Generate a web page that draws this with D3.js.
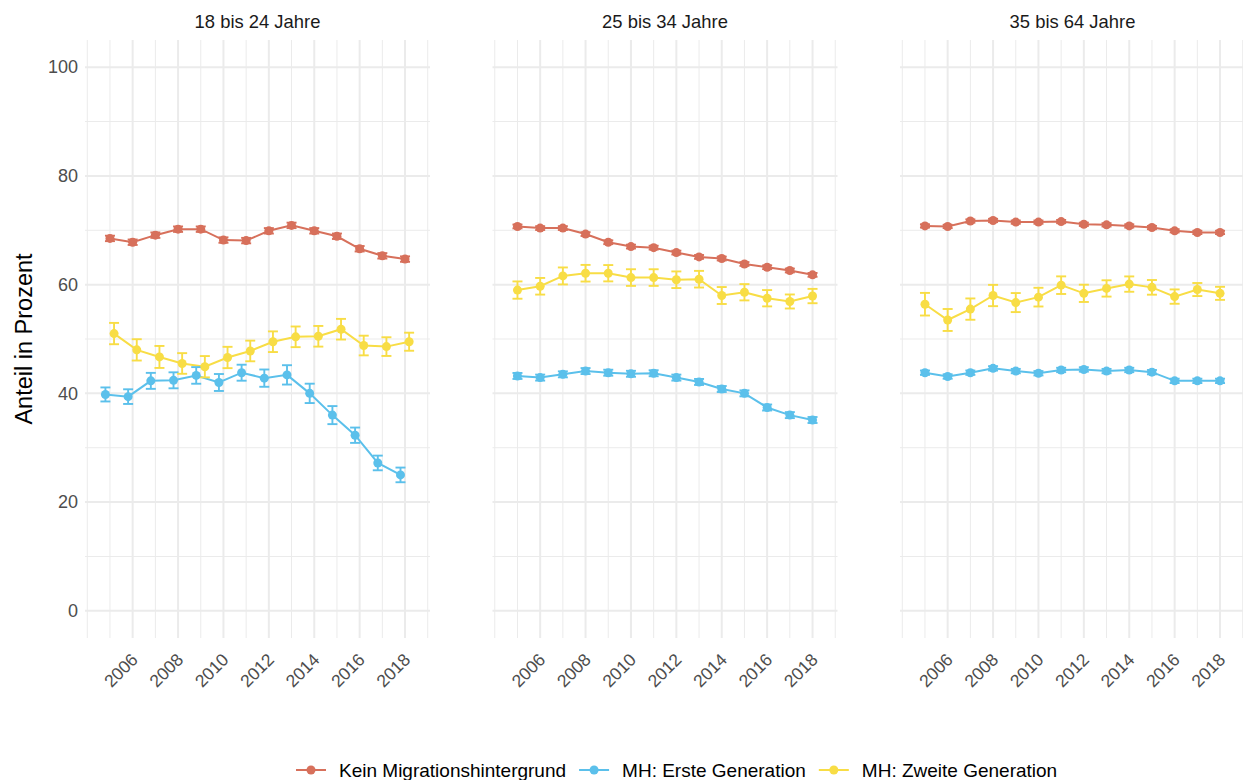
<!DOCTYPE html>
<html>
<head>
<meta charset="utf-8">
<script src="https://cdn.jsdelivr.net/npm/d3@7"></script>
<style>
  body { margin: 0; background: #ffffff; }
  svg { display: block; }
  text { font-family: "Liberation Sans", Arial, sans-serif; }
</style>
</head>
<body>
<svg id="chart" width="1243" height="780"></svg>
<script>
// ---- data -------------------------------------------------------------
const years = [2005, 2006, 2007, 2008, 2009, 2010, 2011, 2012, 2013, 2014, 2015, 2016, 2017, 2018];
const panelTitles = ["18 bis 24 Jahre", "25 bis 34 Jahre", "35 bis 64 Jahre"];
const seriesNames = ["Kein Migrationshintergrund", "MH: Erste Generation", "MH: Zweite Generation"];
const xBreaks = [2006, 2008, 2010, 2012, 2014, 2016, 2018];
const yBreaks = [0, 20, 40, 60, 80, 100];
const yLabel = "Anteil in Prozent";

// shares (percent) per age group
const kein_18_24   = [68.5, 67.8, 69.1, 70.2, 70.2, 68.2, 68.1, 69.9, 70.9, 69.9, 68.9, 66.6, 65.3, 64.7];
const erste_18_24  = [39.8, 39.4, 42.3, 42.4, 43.3, 42.0, 43.8, 42.8, 43.4, 40.0, 36.0, 32.3, 27.2, 25.0];
const zweite_18_24 = [51.0, 48.0, 46.7, 45.5, 44.9, 46.6, 47.8, 49.5, 50.4, 50.5, 51.8, 48.8, 48.6, 49.5];

const kein_25_34   = [70.7, 70.4, 70.4, 69.3, 67.8, 67.0, 66.8, 65.9, 65.1, 64.8, 63.8, 63.2, 62.6, 61.8];
const erste_25_34  = [43.2, 42.9, 43.5, 44.1, 43.8, 43.6, 43.7, 42.9, 42.1, 40.8, 40.0, 37.4, 36.0, 35.1];
const zweite_25_34 = [59.0, 59.7, 61.6, 62.1, 62.1, 61.3, 61.3, 60.9, 61.0, 58.0, 58.6, 57.5, 56.9, 57.9];

const kein_35_64   = [70.8, 70.7, 71.7, 71.8, 71.5, 71.5, 71.6, 71.1, 71.0, 70.8, 70.5, 69.9, 69.6, 69.6];
const erste_35_64  = [43.8, 43.1, 43.8, 44.6, 44.1, 43.7, 44.3, 44.4, 44.1, 44.3, 43.9, 42.3, 42.3, 42.3];
const zweite_35_64 = [56.4, 53.5, 55.5, 58.0, 56.7, 57.7, 59.9, 58.4, 59.3, 60.1, 59.5, 57.8, 59.1, 58.4];

// half-widths of the confidence intervals (percentage points)
const kein_ci_18_24   = [0.5, 0.5, 0.5, 0.5, 0.5, 0.5, 0.5, 0.5, 0.5, 0.5, 0.5, 0.5, 0.5, 0.5];
const erste_ci_18_24  = [1.29, 1.35, 1.47, 1.47, 1.53, 1.56, 1.47, 1.59, 1.78, 1.78, 1.66, 1.41, 1.35, 1.35];
const zweite_ci_18_24 = [1.96, 1.96, 2.02, 1.90, 1.96, 1.96, 1.90, 1.90, 1.90, 1.90, 1.90, 1.81, 1.72, 1.66];

const kein_ci_25_34   = [0.35, 0.35, 0.35, 0.35, 0.35, 0.35, 0.35, 0.35, 0.35, 0.35, 0.35, 0.35, 0.35, 0.35];
const erste_ci_25_34  = [0.55, 0.55, 0.55, 0.55, 0.55, 0.55, 0.55, 0.55, 0.55, 0.55, 0.55, 0.55, 0.55, 0.55];
const zweite_ci_25_34 = [1.59, 1.53, 1.56, 1.53, 1.50, 1.53, 1.53, 1.53, 1.53, 1.56, 1.50, 1.50, 1.29, 1.32];

const kein_ci_35_64   = [0.3, 0.3, 0.3, 0.3, 0.3, 0.3, 0.3, 0.3, 0.3, 0.3, 0.3, 0.3, 0.3, 0.3];
const erste_ci_35_64  = [0.4, 0.4, 0.4, 0.4, 0.4, 0.4, 0.4, 0.4, 0.4, 0.4, 0.4, 0.4, 0.4, 0.4];
const zweite_ci_35_64 = [2.08, 2.02, 1.96, 1.96, 1.75, 1.72, 1.62, 1.59, 1.50, 1.41, 1.35, 1.32, 1.20, 1.20];

// ---- styling ----------------------------------------------------------
const seriesColors = ["#D7705B", "#5BC0EB", "#F8DD45"];
const gridColor = "#ebebeb";

const panelsData = [
  { values: [kein_18_24, erste_18_24, zweite_18_24], ci: [kein_ci_18_24, erste_ci_18_24, zweite_ci_18_24], dodge: [0, -0.2, 0.18] },
  { values: [kein_25_34, erste_25_34, zweite_25_34], ci: [kein_ci_25_34, erste_ci_25_34, zweite_ci_25_34], dodge: [0, 0, 0] },
  { values: [kein_35_64, erste_35_64, zweite_35_64], ci: [kein_ci_35_64, erste_ci_35_64, zweite_ci_35_64], dodge: [0, 0, 0] }
];

// ---- layout -----------------------------------------------------------
const svg = d3.select("#chart");
const panelLeft = [85, 492.5, 900];
const panelW = 345, panelTop = 40, panelH = 598;

const x = d3.scaleLinear().domain([2003.9, 2019.1]).range([0, panelW]);
const y = d3.scaleLinear().domain([-5, 105]).range([panelH, 0]);

const gridYearsAll = d3.range(2004, 2020);
const yMinor = [10, 30, 50, 70, 90];

panelsData.forEach((pd, p) => {
  const g = svg.append("g").attr("transform", `translate(${panelLeft[p]},${panelTop})`);

  // minor grid
  g.selectAll(".vminor").data(gridYearsAll.filter(yr => !xBreaks.includes(yr))).enter()
    .append("line").attr("x1", d => x(d)).attr("x2", d => x(d))
    .attr("y1", 0).attr("y2", panelH)
    .attr("stroke", gridColor).attr("stroke-width", 1);
  g.selectAll(".hminor").data(yMinor).enter()
    .append("line").attr("x1", 0).attr("x2", panelW)
    .attr("y1", d => y(d)).attr("y2", d => y(d))
    .attr("stroke", gridColor).attr("stroke-width", 1);
  // major grid
  g.selectAll(".vmajor").data(xBreaks).enter()
    .append("line").attr("x1", d => x(d)).attr("x2", d => x(d))
    .attr("y1", 0).attr("y2", panelH)
    .attr("stroke", gridColor).attr("stroke-width", 2);
  g.selectAll(".hmajor").data(yBreaks).enter()
    .append("line").attr("x1", 0).attr("x2", panelW)
    .attr("y1", d => y(d)).attr("y2", d => y(d))
    .attr("stroke", gridColor).attr("stroke-width", 2);

  // title strip
  svg.append("text")
    .attr("x", panelLeft[p] + panelW / 2).attr("y", 28)
    .attr("text-anchor", "middle").attr("font-size", 18.4).attr("fill", "#1a1a1a")
    .text(panelTitles[p]);

  // x axis labels (rotated)
  const xAxis = d3.axisBottom(x).tickValues(xBreaks).tickFormat(d3.format("d")).tickSize(0).tickPadding(0);
  const xa = g.append("g").attr("transform", `translate(0,${panelH})`).call(xAxis);
  xa.select(".domain").remove();
  xa.selectAll("text")
    .attr("font-size", 17.5).attr("fill", "#4d4d4d")
    .attr("text-anchor", "end")
    .attr("dy", "0.71em").attr("y", 0)
    .attr("transform", "translate(-3,14) rotate(-45)");

  // y axis labels only on the first panel
  if (p === 0) {
    const yAxis = d3.axisLeft(y).tickValues(yBreaks).tickSize(0).tickPadding(7);
    const ya = g.append("g").call(yAxis);
    ya.select(".domain").remove();
    ya.selectAll("text").attr("font-size", 18).attr("fill", "#4d4d4d");
  }

  const series = pd.values.map((vals, s) => years.map((yr, i) => ({
    year: yr + pd.dodge[s], v: vals[i], ci: pd.ci[s][i], s
  })));

  const line = d3.line().x(d => x(d.year)).y(d => y(d.v));

  // lines
  series.forEach((pts, s) => {
    g.append("path").datum(pts)
      .attr("d", line).attr("fill", "none")
      .attr("stroke", seriesColors[s]).attr("stroke-width", 2);
  });

  // error bars
  series.forEach((pts, s) => {
    const eb = g.append("g").attr("stroke", seriesColors[s]).attr("stroke-width", 1.9).attr("fill", "none");
    const cap = 5;
    eb.selectAll(".v").data(pts).enter().append("line")
      .attr("x1", d => x(d.year)).attr("x2", d => x(d.year))
      .attr("y1", d => y(d.v - d.ci)).attr("y2", d => y(d.v + d.ci));
    eb.selectAll(".t").data(pts).enter().append("line")
      .attr("x1", d => x(d.year) - cap).attr("x2", d => x(d.year) + cap)
      .attr("y1", d => y(d.v + d.ci)).attr("y2", d => y(d.v + d.ci));
    eb.selectAll(".b").data(pts).enter().append("line")
      .attr("x1", d => x(d.year) - cap).attr("x2", d => x(d.year) + cap)
      .attr("y1", d => y(d.v - d.ci)).attr("y2", d => y(d.v - d.ci));
  });

  // points
  series.forEach((pts, s) => {
    g.selectAll(null).data(pts).enter().append("circle")
      .attr("cx", d => x(d.year)).attr("cy", d => y(d.v))
      .attr("r", 4.5).attr("fill", seriesColors[s]);
  });
});

// y axis title
svg.append("text")
  .attr("transform", `translate(32,${panelTop + panelH / 2}) rotate(-90)`)
  .attr("text-anchor", "middle").attr("font-size", 23.5).attr("fill", "#000")
  .text(yLabel);

// ---- legend -----------------------------------------------------------
const legend = svg.append("g").attr("transform", "translate(296,770)");
let cursor = 0;
seriesNames.forEach((name, s) => {
  const item = legend.append("g").attr("transform", `translate(${cursor},0)`);
  item.append("line").attr("x1", 0).attr("x2", 30).attr("y1", 0).attr("y2", 0)
    .attr("stroke", seriesColors[s]).attr("stroke-width", 2);
  item.append("circle").attr("cx", 15).attr("cy", 0).attr("r", 4.5).attr("fill", seriesColors[s]);
  const t = item.append("text").attr("x", 43).attr("y", 0).attr("dy", "0.35em")
    .attr("font-size", 19).attr("fill", "#000").text(name);
  cursor += 43 + t.node().getComputedTextLength() + 13;
});
</script>
</body>
</html>
